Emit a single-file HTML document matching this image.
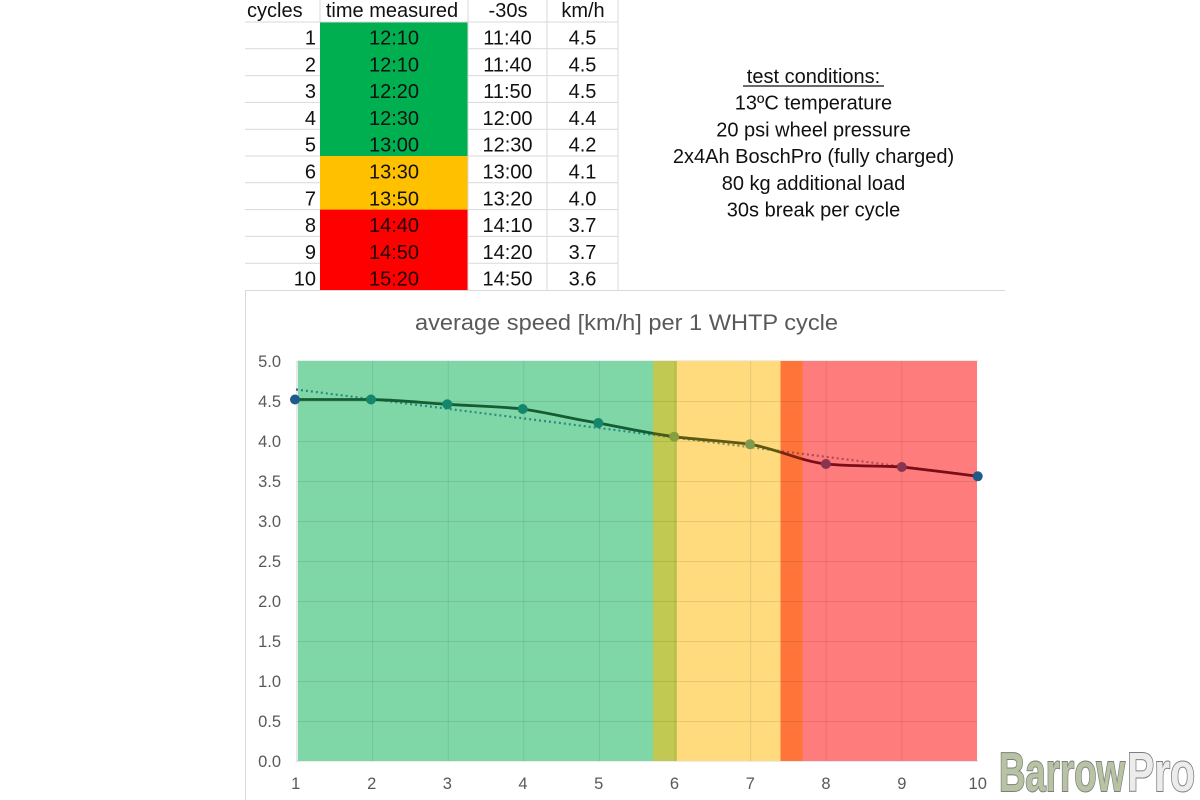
<!DOCTYPE html>
<html>
<head>
<meta charset="utf-8">
<style>
html,body{margin:0;padding:0;background:#fff;}
svg{display:block;}
text{font-family:"Liberation Sans",Arial,sans-serif;}
</style>
</head>
<body>
<svg width="1200" height="800" viewBox="0 0 1200 800" xmlns="http://www.w3.org/2000/svg">
<defs>
<linearGradient id="lg" gradientUnits="userSpaceOnUse" x1="0" y1="0" x2="1200" y2="0">
<stop offset="0" stop-color="#1a3a5e"/>
<stop offset="0.2483" stop-color="#1a3a5e"/>
<stop offset="0.2483" stop-color="#155c35"/>
<stop offset="0.5442" stop-color="#155c35"/>
<stop offset="0.5442" stop-color="#4a5a18"/>
<stop offset="0.5642" stop-color="#4a5a18"/>
<stop offset="0.5642" stop-color="#5e5812"/>
<stop offset="0.6506" stop-color="#5e5812"/>
<stop offset="0.6506" stop-color="#7a2410"/>
<stop offset="0.6683" stop-color="#7a2410"/>
<stop offset="0.6683" stop-color="#7a0d18"/>
<stop offset="0.8142" stop-color="#7a0d18"/>
<stop offset="0.8142" stop-color="#1a3a5e"/>
<stop offset="1" stop-color="#1a3a5e"/>
</linearGradient>
<linearGradient id="tg" gradientUnits="userSpaceOnUse" x1="0" y1="0" x2="1200" y2="0">
<stop offset="0" stop-color="#2a6a9a"/>
<stop offset="0.2483" stop-color="#2a6a9a"/>
<stop offset="0.2483" stop-color="#2a8a80"/>
<stop offset="0.5442" stop-color="#2a8a80"/>
<stop offset="0.5442" stop-color="#7a9040"/>
<stop offset="0.6506" stop-color="#8a8a50"/>
<stop offset="0.6506" stop-color="#b04a50"/>
<stop offset="0.8142" stop-color="#b04a58"/>
<stop offset="0.8142" stop-color="#2a6a9a"/>
<stop offset="1" stop-color="#2a6a9a"/>
</linearGradient>
</defs>

<!-- TABLE -->
<rect x="320" y="22" width="148" height="134" fill="#00b050"/>
<rect x="320" y="156" width="148" height="53.6" fill="#ffc000"/>
<rect x="320" y="209.6" width="148" height="80.4" fill="#ff0000"/>
<g stroke="#d9d9d9" stroke-width="1">
<line x1="245" y1="22" x2="618" y2="22"/>
<line x1="245" y1="48.8" x2="320" y2="48.8"/><line x1="468" y1="48.8" x2="618" y2="48.8"/>
<line x1="245" y1="75.6" x2="320" y2="75.6"/><line x1="468" y1="75.6" x2="618" y2="75.6"/>
<line x1="245" y1="102.4" x2="320" y2="102.4"/><line x1="468" y1="102.4" x2="618" y2="102.4"/>
<line x1="245" y1="129.2" x2="320" y2="129.2"/><line x1="468" y1="129.2" x2="618" y2="129.2"/>
<line x1="245" y1="156" x2="320" y2="156"/><line x1="468" y1="156" x2="618" y2="156"/>
<line x1="245" y1="182.8" x2="320" y2="182.8"/><line x1="468" y1="182.8" x2="618" y2="182.8"/>
<line x1="245" y1="209.6" x2="320" y2="209.6"/><line x1="468" y1="209.6" x2="618" y2="209.6"/>
<line x1="245" y1="236.4" x2="320" y2="236.4"/><line x1="468" y1="236.4" x2="618" y2="236.4"/>
<line x1="245" y1="263.2" x2="320" y2="263.2"/><line x1="468" y1="263.2" x2="618" y2="263.2"/>
<line x1="320" y1="0" x2="320" y2="22"/>
<line x1="468" y1="0" x2="468" y2="290"/>
<line x1="547" y1="0" x2="547" y2="290"/>
<line x1="618" y1="0" x2="618" y2="290"/>
</g>
<g font-size="20" fill="#111">
<text x="247" y="17">cycles</text>
<text x="392" y="17" text-anchor="middle">time measured</text>
<text x="508" y="17" text-anchor="middle">-30s</text>
<text x="583" y="17" text-anchor="middle">km/h</text>
</g>
<g font-size="20" fill="#111" text-anchor="end">
<text x="316" y="44.5">1</text>
<text x="316" y="71.3">2</text>
<text x="316" y="98.1">3</text>
<text x="316" y="124.9">4</text>
<text x="316" y="151.7">5</text>
<text x="316" y="178.5">6</text>
<text x="316" y="205.3">7</text>
<text x="316" y="232.1">8</text>
<text x="316" y="258.9">9</text>
<text x="316" y="285.7">10</text>
</g>
<g font-size="20" fill="#111" text-anchor="middle">
<text x="394" y="44.5">12:10</text>
<text x="394" y="71.3">12:10</text>
<text x="394" y="98.1">12:20</text>
<text x="394" y="124.9">12:30</text>
<text x="394" y="151.7">13:00</text>
<text x="394" y="178.5">13:30</text>
<text x="394" y="205.3">13:50</text>
<text x="394" y="232.1" fill="#200">14:40</text>
<text x="394" y="258.9" fill="#200">14:50</text>
<text x="394" y="285.7" fill="#200">15:20</text>
<text x="507.5" y="44.5">11:40</text>
<text x="507.5" y="71.3">11:40</text>
<text x="507.5" y="98.1">11:50</text>
<text x="507.5" y="124.9">12:00</text>
<text x="507.5" y="151.7">12:30</text>
<text x="507.5" y="178.5">13:00</text>
<text x="507.5" y="205.3">13:20</text>
<text x="507.5" y="232.1">14:10</text>
<text x="507.5" y="258.9">14:20</text>
<text x="507.5" y="285.7">14:50</text>
<text x="582.5" y="44.5">4.5</text>
<text x="582.5" y="71.3">4.5</text>
<text x="582.5" y="98.1">4.5</text>
<text x="582.5" y="124.9">4.4</text>
<text x="582.5" y="151.7">4.2</text>
<text x="582.5" y="178.5">4.1</text>
<text x="582.5" y="205.3">4.0</text>
<text x="582.5" y="232.1">3.7</text>
<text x="582.5" y="258.9">3.7</text>
<text x="582.5" y="285.7">3.6</text>
</g>

<!-- TEST CONDITIONS -->
<g font-size="20" fill="#111" text-anchor="middle">
<text x="813.5" y="83">test conditions:</text>
<line x1="743" y1="86" x2="884" y2="86" stroke="#111" stroke-width="1.3"/>
<text x="813.5" y="109.7">13ºC temperature</text>
<text x="813.5" y="136.4">20 psi wheel pressure</text>
<text x="813.5" y="163.1">2x4Ah BoschPro (fully charged)</text>
<text x="813.5" y="189.8">80 kg additional load</text>
<text x="813.5" y="216.5">30s break per cycle</text>
</g>

<!-- CHART FRAME -->
<line x1="245" y1="290.5" x2="1005" y2="290.5" stroke="#d9d9d9" stroke-width="1"/>
<line x1="245.5" y1="290" x2="245.5" y2="800" stroke="#d9d9d9" stroke-width="1"/>

<text x="626.5" y="330" font-size="22" fill="#595959" text-anchor="middle" textLength="423" lengthAdjust="spacingAndGlyphs">average speed [km/h] per 1 WHTP cycle</text>

<g stroke="#d9d9d9" stroke-width="1">
<line x1="297" y1="361" x2="978" y2="361"/>
<line x1="297" y1="761" x2="978" y2="761"/>
</g>

<!-- BANDS -->
<rect x="298" y="361" width="355" height="400" fill="#7fd7a7"/>
<rect x="653" y="361" width="24" height="400" fill="#c2c952"/>
<rect x="677" y="361" width="103.5" height="400" fill="#ffdb7e"/>
<rect x="780.5" y="361" width="22" height="400" fill="#ff7438"/>
<rect x="802.5" y="361" width="174.5" height="400" fill="#ff7c7c"/>

<g stroke="rgba(0,0,0,0.09)" stroke-width="1">
<line x1="297" y1="401.5" x2="977" y2="401.5"/>
<line x1="297" y1="441.5" x2="977" y2="441.5"/>
<line x1="297" y1="481.5" x2="977" y2="481.5"/>
<line x1="297" y1="521.5" x2="977" y2="521.5"/>
<line x1="297" y1="561.5" x2="977" y2="561.5"/>
<line x1="297" y1="601.5" x2="977" y2="601.5"/>
<line x1="297" y1="641.5" x2="977" y2="641.5"/>
<line x1="297" y1="681.5" x2="977" y2="681.5"/>
<line x1="297" y1="721.5" x2="977" y2="721.5"/>
<line x1="372.6" y1="361" x2="372.6" y2="761"/>
<line x1="448.2" y1="361" x2="448.2" y2="761"/>
<line x1="523.8" y1="361" x2="523.8" y2="761"/>
<line x1="599.4" y1="361" x2="599.4" y2="761"/>
<line x1="675" y1="361" x2="675" y2="761"/>
<line x1="750.6" y1="361" x2="750.6" y2="761"/>
<line x1="826.2" y1="361" x2="826.2" y2="761"/>
<line x1="901.8" y1="361" x2="901.8" y2="761"/>
</g>
<line x1="297" y1="361" x2="297" y2="762" stroke="#d0d0d0" stroke-width="1"/>

<line x1="296" y1="389.5" x2="977" y2="476" stroke="url(#tg)" stroke-width="2.2" stroke-dasharray="2 3"/>

<path d="M295,399.5 C320,399.5 345,399.3 371,399.5 C397,400 420,402.5 447.3,404.3 C475,406 500,406.5 522.7,409 C550,413 572,419 598.3,423 C625,428 650,433.5 674.2,436.7 C700,440 727,441 750,444.3 C778,449 800,461 825.9,464 C852,466.5 877,465.5 901.8,467 C928,470 953,473 977.7,476.3" fill="none" stroke="url(#lg)" stroke-width="2.8"/>

<circle cx="295" cy="399.5" r="5" fill="#1f5a8a"/>
<circle cx="371" cy="399.5" r="5" fill="#14866c"/>
<circle cx="447.3" cy="404.3" r="5" fill="#14866c"/>
<circle cx="522.7" cy="409" r="5" fill="#14866c"/>
<circle cx="598.3" cy="423" r="5" fill="#14866c"/>
<circle cx="674.2" cy="436.7" r="5" fill="#86a040"/>
<circle cx="750" cy="444.3" r="5" fill="#7e9a4c"/>
<circle cx="825.9" cy="464" r="5" fill="#8a3450"/>
<circle cx="901.8" cy="467" r="5" fill="#8a3450"/>
<circle cx="977.7" cy="476.3" r="5" fill="#1f5a8a"/>

<g font-size="16.5" fill="#595959" text-anchor="end">
<text x="281" y="367">5.0</text>
<text x="281" y="407">4.5</text>
<text x="281" y="447">4.0</text>
<text x="281" y="487">3.5</text>
<text x="281" y="527">3.0</text>
<text x="281" y="567">2.5</text>
<text x="281" y="607">2.0</text>
<text x="281" y="647">1.5</text>
<text x="281" y="687">1.0</text>
<text x="281" y="727">0.5</text>
<text x="281" y="767">0.0</text>
</g>
<g font-size="16.5" fill="#595959" text-anchor="middle">
<text x="295.7" y="789">1</text>
<text x="371.7" y="789">2</text>
<text x="447.3" y="789">3</text>
<text x="523" y="789">4</text>
<text x="598.7" y="789">5</text>
<text x="674.5" y="789">6</text>
<text x="750.3" y="789">7</text>
<text x="826" y="789">8</text>
<text x="901.8" y="789">9</text>
<text x="977.7" y="789">10</text>
</g>

<g font-family="'Liberation Sans Narrow','Liberation Sans',sans-serif" font-weight="bold" font-size="55" stroke="#7d7d7d" stroke-width="2" paint-order="stroke">
<text x="999" y="791" fill="#b8c3a4" textLength="126" lengthAdjust="spacingAndGlyphs">Barrow</text>
<text x="1127" y="791" fill="#ececec" textLength="68" lengthAdjust="spacingAndGlyphs">Pro</text>
</g>
</svg>
</body>
</html>
